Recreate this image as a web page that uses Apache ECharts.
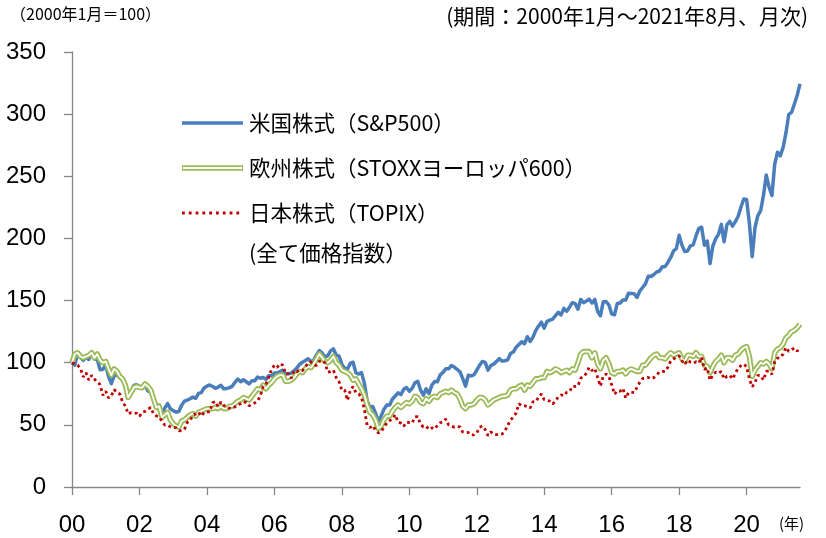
<!DOCTYPE html>
<html><head><meta charset="utf-8">
<script src="https://cdn.jsdelivr.net/npm/echarts@6/dist/echarts.min.js"></script>
<style>html,body{margin:0;padding:0;background:#fff}#c{width:826px;height:538px}</style>
</head><body><div id="c"></div>
<script>
// x tick labels (every 2 years)
const yearTicks = ['00','02','04','06','08','10','12','14','16','18','20'];
// y ticks
const yMin = 0, yMax = 350, yStep = 50;

// monthly categories Jan 2000 .. Aug 2021
const months = [];
for (let y = 2000; y <= 2021; y++) {
  for (let m = 1; m <= 12; m++) {
    if (y === 2021 && m > 8) break;
    months.push(y + '/' + m);
  }
}

// 米国株式（S&P500） 2000年1月=100
const usStocks = [
100.0,98.0,107.5,104.2,101.9,104.3,102.6,108.8,103.0,102.5,94.3,94.7,
98.0,88.9,83.2,89.6,90.1,87.8,86.9,81.3,74.6,76.0,81.7,82.3,
81.0,79.4,82.3,77.2,76.5,71.0,65.4,65.7,58.5,63.5,67.1,63.1,
61.4,60.3,60.8,65.8,69.1,69.9,71.0,72.3,71.4,75.3,75.9,79.7,
81.1,82.1,80.8,79.4,80.4,81.8,79.0,79.2,79.9,81.0,84.2,86.9,
84.7,86.3,84.7,83.0,85.4,85.4,88.5,87.5,88.1,86.6,89.6,89.5,
91.8,91.8,92.9,94.0,91.1,91.1,91.6,93.5,95.8,98.8,100.4,101.7,
103.1,100.9,101.9,106.3,109.8,107.8,104.4,105.7,109.5,111.1,106.2,105.3,
98.9,95.4,94.9,99.4,100.4,91.8,90.9,92.0,83.6,69.5,64.3,64.8,
59.2,52.7,57.2,62.6,65.9,65.9,70.8,73.2,75.8,74.3,78.6,80.0,
77.0,79.2,83.9,85.1,78.1,73.9,79.0,75.2,81.8,84.9,84.7,90.2,
92.2,95.2,95.1,97.8,96.5,94.7,92.7,87.4,81.1,89.9,89.4,90.2,
94.1,97.9,101.0,100.2,94.0,97.7,98.9,100.9,103.3,101.3,101.6,102.3,
107.4,108.6,112.5,114.6,116.9,115.2,120.9,117.1,120.6,126.0,129.5,132.6,
127.8,133.3,134.3,135.1,137.9,140.6,138.5,143.7,141.4,144.7,148.3,147.6,
143.1,150.9,148.3,149.6,151.1,148.0,150.9,141.4,137.7,149.1,149.2,146.6,
139.1,138.6,147.7,148.1,150.4,150.5,155.9,155.7,155.5,152.5,157.7,160.5,
163.4,169.5,169.4,171.0,173.0,173.8,177.2,177.3,180.7,184.7,189.9,191.7,
202.5,194.6,189.4,189.9,194.0,194.9,202.0,208.1,209.0,194.5,197.9,179.8,
193.9,199.7,203.3,211.3,197.4,211.0,213.7,209.9,213.5,217.8,225.3,231.7,
231.3,211.9,185.3,208.9,218.3,222.3,234.6,251.0,241.2,234.5,259.7,269.4,
266.4,273.3,284.9,299.8,301.5,308.2,315.2,324.3];

// 欧州株式（STOXXヨーロッパ600）
const euStocks = [
100,107,108,105,104,105,106,108,104,107,102,100,
101,95,90,95,93,89,87,82,72,76,80,81,
80,80,83,81,78,71,64,65,56,58,60,54,
51,49,48,53,54,56,58,59,57,60,61,62,
63,63,63,64,63,65,63,63,65,65,67,69,
70,72,71,70,73,76,79,78,82,79,82,84,
87,89,90,90,85,85,86,88,91,93,92,95,
97,96,99,103,107,104,101,100,102,105,100,98,
94,93,92,90,86,87,83,79,74,66,60,58,
54,47,49,54,57,57,61,64,66,64,66,68,
67,69,73,72,68,67,71,69,72,73,72,75,
76,77,76,78,76,75,71,65,63,66,66,67,
70,72,72,70,66,68,70,71,72,73,73,74,
78,79,79,81,82,78,82,81,84,87,87,88,
88,93,92,93,95,94,92,93,94,92,95,94,
100,107,109,109,109,104,108,99,95,102,104,99,
92,91,93,93,94,91,94,95,94,93,93,98,
98,101,104,106,107,104,104,103,106,108,106,107,
108,103,101,106,106,105,108,105,105,98,97,92,
97,101,103,106,100,104,104,102,106,107,110,112,
113,105,89,94,97,100,99,101,99,95,108,111,
112,115,120,122,125,126,128,131];

// 日本株式（TOPIX）
const jpStocks = [
100.0,99.0,98.0,95.4,88.6,92.0,86.0,89.8,86.8,84.4,82.4,73.8,
77.1,71.6,73.4,78.4,76.0,74.8,68.4,65.1,58.8,59.8,59.5,59.3,
56.9,60.1,60.9,62.5,64.0,58.9,57.2,56.4,52.9,49.9,49.9,48.4,
47.8,47.7,45.3,45.1,46.5,51.9,53.2,58.0,58.6,60.2,57.0,60.0,
60.4,60.5,67.8,68.7,64.7,68.4,65.5,65.3,63.3,63.2,64.5,66.1,
67.0,68.8,67.9,65.3,66.5,67.6,69.2,73.2,81.1,83.0,88.4,94.8,
97.9,96.3,99.3,98.0,91.1,91.1,87.5,93.5,92.6,94.3,93.7,96.6,
100.0,100.6,98.5,97.7,101.1,102.0,100.1,92.4,92.9,94.0,88.0,84.8,
78.0,78.0,69.7,77.6,80.9,75.9,75.0,72.2,62.5,49.8,47.8,49.4,
45.6,43.5,44.5,48.2,51.6,53.4,54.6,58.2,52.3,51.4,48.8,52.2,
51.8,51.4,56.3,56.7,50.6,48.3,48.9,46.3,47.6,46.6,49.5,51.7,
52.3,54.7,49.9,49.0,48.2,48.8,48.3,44.3,43.7,43.9,41.9,41.9,
43.4,48.0,49.1,46.2,41.4,44.3,42.4,42.1,42.4,42.6,44.9,49.4,
54.0,56.1,59.5,67.0,65.3,65.2,65.1,63.6,68.6,68.6,72.4,74.8,
70.2,69.7,69.1,66.8,69.0,72.6,74.1,73.4,76.2,76.7,81.0,80.9,
81.3,87.6,88.7,91.6,96.2,93.7,95.4,88.3,81.1,89.5,90.8,88.9,
82.3,74.6,77.4,77.1,79.3,71.6,76.0,76.4,76.0,80.1,84.4,87.3,
87.5,88.2,87.0,88.0,90.1,92.6,93.0,92.9,96.3,101.5,103.0,104.5,
105.6,101.6,98.6,102.1,100.4,99.5,100.7,99.7,104.4,94.6,95.8,85.9,
90.1,92.4,91.5,93.0,86.9,89.1,89.9,86.9,91.3,95.8,97.6,98.9,
96.8,86.8,80.6,84.1,89.9,89.6,86.0,93.0,93.4,90.7,100.9,103.7,
104.0,107.1,112.3,109.1,110.5,111.7,109.3,112.7];

const seriesNames = ['米国株式（S&P500）', '欧州株式（STOXXヨーロッパ600）', '日本株式（TOPIX）'];
const noteText = '(全て価格指数）';
const unitText = '（2000年1月＝100）';
const periodText = '(期間：2000年1月～2021年8月、月次)';
const yearUnit = '(年)';

const C_US = '#4A7EBB', C_EU = '#9BBB59', C_JP = '#C00000';
const AXIS = '#868686';
const JP_FONT = "'Noto Sans CJK JP', sans-serif";
const NUM_FONT = "'Liberation Sans', Arial, sans-serif";

const chart = echarts.init(document.getElementById('c'), null, {renderer: 'canvas'});

const lgX1 = 182, lgX2 = 243, lgTx = 249;
const lgY = [123, 168, 213, 253];

chart.setOption({
  animation: false,
  backgroundColor: '#fff',
  grid: {left: 72, right: 26, top: 52, bottom: 51, containLabel: false},
  xAxis: {
    type: 'category',
    data: months,
    boundaryGap: false,
    axisLine: {show: true, lineStyle: {color: AXIS, width: 1.3}},
    axisTick: {show: true, length: 8, interval: (i) => i % 24 === 0, lineStyle: {color: AXIS, width: 1.3}},
    axisLabel: {
      interval: (i) => i % 24 === 0,
      formatter: (v, i) => yearTicks[i / 24],
      fontFamily: NUM_FONT, fontSize: 24, color: '#000', margin: 26
    },
    splitLine: {show: false}
  },
  yAxis: {
    type: 'value', min: yMin, max: yMax, interval: yStep,
    axisLine: {show: true, lineStyle: {color: AXIS, width: 1.3}},
    axisTick: {show: true, length: 8, lineStyle: {color: AXIS, width: 1.3}},
    axisLabel: {fontFamily: NUM_FONT, fontSize: 24, color: '#000', margin: 26},
    splitLine: {show: false}
  },
  series: [
    {name: seriesNames[0], type: 'line', data: usStocks, symbol: 'none', silent: true, z: 2,
     lineStyle: {color: C_US, width: 3.5, join: 'round'}},
    {name: seriesNames[1], type: 'line', data: euStocks, symbol: 'none', silent: true, z: 3,
     lineStyle: {color: C_EU, width: 5.5, join: 'round'}},
    {name: seriesNames[1] + ' inner', type: 'line', data: euStocks, symbol: 'none', silent: true, z: 4,
     lineStyle: {color: '#fff', width: 1.8, join: 'round'}},
    {name: seriesNames[2], type: 'line', data: jpStocks, symbol: 'none', silent: true, z: 5,
     lineStyle: {color: C_JP, width: 2.8, type: [2.8, 3.2]}}
  ],
  graphic: [
    {type: 'text', left: 10, top: 6, style: {text: unitText, font: '16px ' + JP_FONT, fill: '#000'}},
    {type: 'text', right: 18, top: 6, style: {text: periodText, font: '21px ' + JP_FONT, fill: '#000'}},
    {type: 'text', left: 779, top: 516, style: {text: yearUnit, font: '15px ' + JP_FONT, fill: '#000'}},
    {type: 'line', shape: {x1: lgX1, y1: lgY[0], x2: lgX2, y2: lgY[0]}, style: {stroke: C_US, lineWidth: 3.5}},
    {type: 'line', shape: {x1: lgX1, y1: lgY[1], x2: lgX2, y2: lgY[1]}, style: {stroke: C_EU, lineWidth: 5.5}},
    {type: 'line', shape: {x1: lgX1 + 1, y1: lgY[1], x2: lgX2 - 1, y2: lgY[1]}, style: {stroke: '#fff', lineWidth: 1.8}},
    {type: 'line', shape: {x1: lgX1, y1: lgY[2], x2: lgX2, y2: lgY[2]}, style: {stroke: C_JP, lineWidth: 2.8, lineDash: [2.8, 4]}},
    {type: 'text', x: lgTx, y: lgY[0], style: {text: seriesNames[0], font: '21.5px ' + JP_FONT, fill: '#000', verticalAlign: 'middle'}},
    {type: 'text', x: lgTx, y: lgY[1], style: {text: seriesNames[1], font: '21.5px ' + JP_FONT, fill: '#000', verticalAlign: 'middle'}},
    {type: 'text', x: lgTx, y: lgY[2], style: {text: seriesNames[2], font: '21.5px ' + JP_FONT, fill: '#000', verticalAlign: 'middle'}},
    {type: 'text', x: lgTx, y: lgY[3], style: {text: noteText, font: '21.5px ' + JP_FONT, fill: '#000', verticalAlign: 'middle'}}
  ]
});
</script>
</body></html>
